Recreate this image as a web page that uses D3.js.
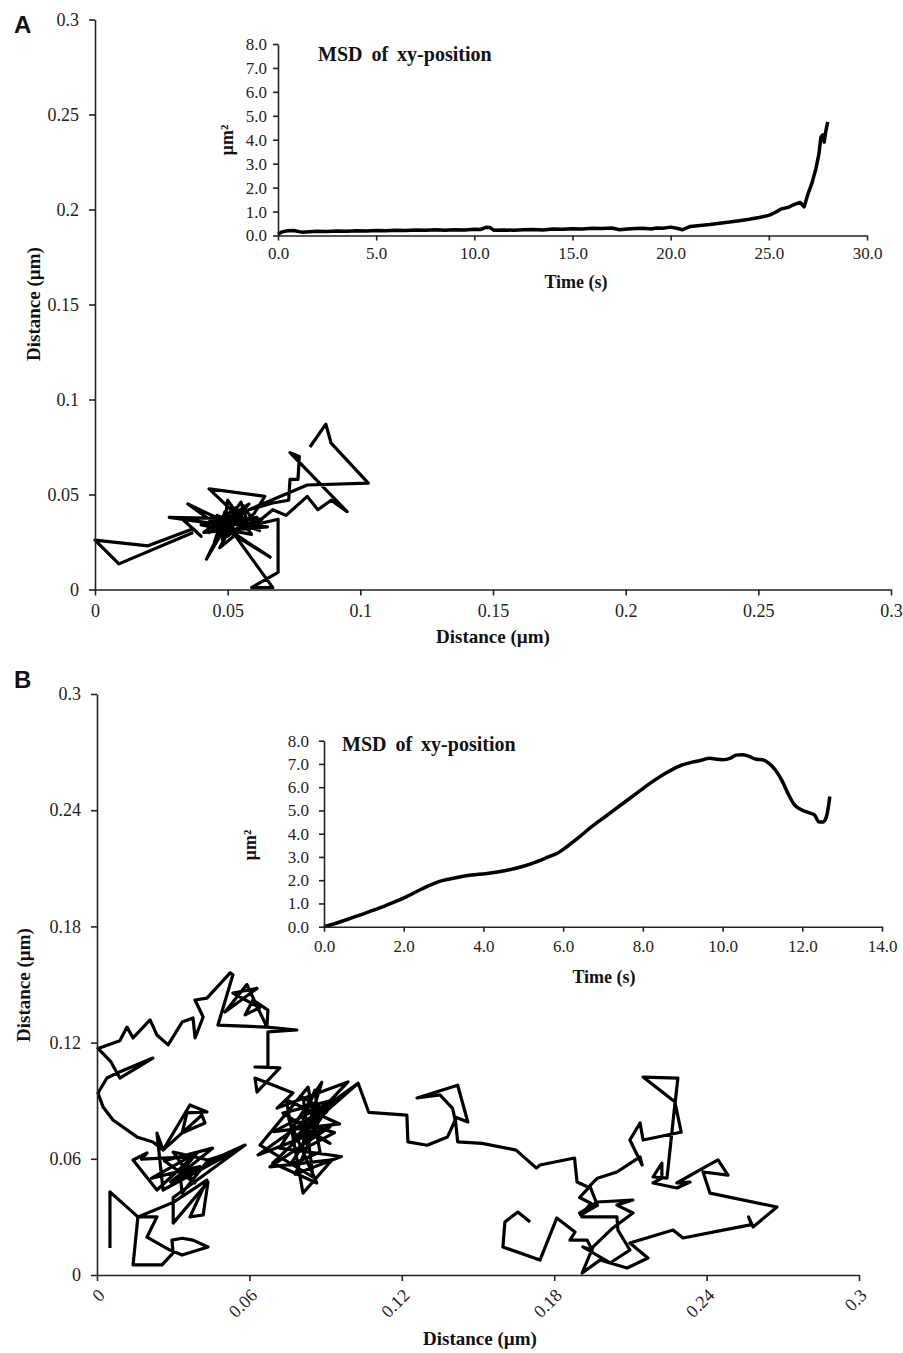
<!DOCTYPE html>
<html><head><meta charset="utf-8">
<script src="https://cdn.jsdelivr.net/npm/d3@7"></script>
<style>body{margin:0;background:#fff} svg{display:block}</style>
</head><body><svg id="c" width="903" height="1353"></svg>
<script>
// ---------------- DATA ----------------
const mainTicksA = [0, 0.05, 0.1, 0.15, 0.2, 0.25, 0.3];
const mainTickLabelsA = ["0", "0.05", "0.1", "0.15", "0.2", "0.25", "0.3"];
const mainTicksB = [0, 0.06, 0.12, 0.18, 0.24, 0.3];
const mainTickLabelsB = ["0", "0.06", "0.12", "0.18", "0.24", "0.3"];
const insetYTicks = [0, 1, 2, 3, 4, 5, 6, 7, 8];
const insetYTickLabels = ["0.0", "1.0", "2.0", "3.0", "4.0", "5.0", "6.0", "7.0", "8.0"];
const insetATimeTicks = [0, 5, 10, 15, 20, 25, 30];
const insetATimeLabels = ["0.0", "5.0", "10.0", "15.0", "20.0", "25.0", "30.0"];
const insetBTimeTicks = [0, 2, 4, 6, 8, 10, 12, 14];
const insetBTimeLabels = ["0.0", "2.0", "4.0", "6.0", "8.0", "10.0", "12.0", "14.0"];

// Panel A trajectory (x, y in µm)
const trackA = [
[0.037,0.030],[0.009,0.0135],[0.000,0.026],[0.020,0.023],[0.037,0.032],[0.040,0.028],[0.033,0.037],
[0.048,0.034],[0.028,0.038],[0.063,0.037],[0.052,0.030],[0.066,0.017],[0.044,0.036],[0.035,0.045],
[0.050,0.035],[0.042,0.016],[0.047,0.030],[0.055,0.046],[0.058,0.033],[0.043,0.053],[0.064,0.049],
[0.060,0.040],[0.050,0.028],[0.056,0.044],[0.062,0.031],[0.046,0.039],[0.054,0.027],[0.049,0.041],
[0.045,0.025],[0.058,0.045],[0.044,0.032],[0.061,0.038],[0.047,0.022],[0.054,0.040],[0.040,0.034],
[0.059,0.029],[0.050,0.047],[0.048,0.026],[0.052,0.038],[0.043,0.030],[0.057,0.041],[0.046,0.035],
[0.065,0.033],[0.041,0.030],[0.053,0.043],[0.057,0.035],[0.052,0.030],[0.067,0.001],[0.059,0.001],
[0.069,0.009],[0.069,0.037],[0.060,0.034],[0.067,0.042],[0.072,0.039],[0.080,0.049],[0.084,0.042],
[0.089,0.047],[0.095,0.041],[0.0735,0.072],[0.077,0.070],[0.0765,0.058],[0.0735,0.058],[0.073,0.047],
[0.067,0.0455],[0.058,0.042],[0.080,0.055],[0.103,0.056],[0.089,0.077],[0.087,0.087],[0.081,0.075]
];

// Panel B trajectory (x, y in µm)
const trackB = [
[0.0051,0.0139],[0.0051,0.0429],[0.0161,0.030],[0.0142,0.0052],[0.0256,0.0052],[0.030,0.0114],
[0.0295,0.018],[0.0335,0.019],[0.0378,0.018],[0.0437,0.0145],[0.0335,0.0103],[0.0287,0.0129],
[0.0197,0.0196],[0.0236,0.030],[0.0161,0.030],[0.030,0.0375],[0.0433,0.049],[0.0366,0.030],
[0.0418,0.031],[0.0437,0.048],[0.030,0.0268],[0.030,0.040],[0.0583,0.0671],[0.043,0.058],
[0.0335,0.0423],[0.0327,0.0527],[0.0394,0.063],[0.0236,0.0439],[0.0142,0.0594],[0.0197,0.063],
[0.0175,0.0598],[0.0365,0.0610],[0.0215,0.0500],[0.0405,0.0560],[0.0290,0.0480],[0.0455,0.0655],
[0.0265,0.0590],[0.0385,0.0475],
[0.030,0.0635],[0.0437,0.0594],[0.0535,0.0635],[0.026,0.0439],[0.0236,0.0733],[0.026,0.0645],
[0.0366,0.0878],[0.0433,0.0842],[0.0354,0.0837],[0.0335,0.0733],[0.0425,0.0785],[0.0413,0.0826],
[0.026,0.0645],[0.022,0.0687],[0.0157,0.0713],[0.0063,0.080],[0.0024,0.0867],[0.0004,0.094],
[0.0039,0.1017],[0.0079,0.1043],[0.022,0.112],[0.009,0.1017],[0.0055,0.110],[0.0004,0.117],
[0.009,0.121],[0.0118,0.128],[0.0142,0.1224],[0.0209,0.1317],[0.0236,0.1239],[0.028,0.1188],
[0.0335,0.1306],[0.0378,0.1327],[0.0386,0.1224],[0.0418,0.1332],[0.0386,0.142],[0.0433,0.143],
[0.0524,0.156],[0.0535,0.155],[0.0476,0.129],[0.0669,0.128],[0.059,0.150],[0.0504,0.1358],
[0.063,0.148],[0.0535,0.1456],[0.064,0.138],[0.0583,0.1343],[0.0614,0.142],[0.0673,0.1368],
[0.0669,0.128],[0.0787,0.1265],[0.0673,0.1255],[0.0673,0.1074],[0.0622,0.1074],[0.072,0.107],
[0.063,0.0945],[0.0622,0.1017],[0.0772,0.094],[0.0709,0.0862],[0.0988,0.0997],[0.0772,0.0697],
[0.1028,0.099],[0.0634,0.062],[0.0917,0.0764],[0.0681,0.0558],[0.0925,0.0594],[0.0811,0.0423],
[0.0745,0.0905],[0.0955,0.078],[0.0695,0.0740],[0.090,0.088],[0.078,0.052],[0.0962,0.0612],
[0.0718,0.0655],[0.0885,0.0995],[0.0802,0.0642],[0.0935,0.0735],[0.0755,0.0805],[0.0865,0.0475],
[0.0692,0.0578],[0.0905,0.0845],[0.0812,0.0916],
[0.085,0.0506],[0.0642,0.0671],[0.0831,0.097],[0.0878,0.0635],[0.076,0.0568],[0.0929,0.0904],
[0.0732,0.0836],[0.0917,0.068],[0.080,0.0759],[0.0858,0.0955],[0.087,0.0816],[0.1008,0.097],
[0.1028,0.099],[0.107,0.084],[0.122,0.0826],[0.1224,0.0687],[0.130,0.067],[0.138,0.0713],
[0.141,0.080],[0.140,0.086],[0.135,0.093],[0.126,0.0914],[0.142,0.098],[0.146,0.079],
[0.141,0.0816],[0.142,0.0687],[0.1516,0.068],[0.165,0.0645],[0.173,0.0552],[0.1744,0.0568],
[0.188,0.0604],[0.189,0.048],[0.1937,0.0452],[0.190,0.040],[0.1945,0.037],[0.1905,0.031],
[0.197,0.036],[0.194,0.046],[0.197,0.050],[0.2047,0.0532],[0.2138,0.061],[0.2146,0.0568],
[0.2098,0.0697],[0.2138,0.0785],[0.215,0.0697],[0.2283,0.0733],[0.230,0.0738],[0.2276,0.0888],
[0.2287,0.1017],[0.215,0.1022],[0.2276,0.0893],[0.2244,0.050],[0.2189,0.0506],[0.2224,0.0578],
[0.2224,0.050],[0.2189,0.0475],[0.2283,0.0449],[0.2335,0.048],[0.2283,0.0475],[0.2386,0.0552],
[0.2445,0.0594],[0.2484,0.0516],[0.2386,0.0532],[0.2413,0.0423],[0.2677,0.0351],[0.2583,0.0248],
[0.2565,0.030],[0.2577,0.0260],[0.2465,0.0232],[0.2307,0.0191],[0.2268,0.0232],[0.2098,0.0165],
[0.2169,0.0088],[0.2087,0.0036],[0.198,0.0077],[0.191,0.001],[0.1953,0.0145],[0.2031,0.0243],
[0.211,0.032],[0.2047,0.0361],[0.211,0.0387],[0.1969,0.0377],[0.190,0.032],[0.1909,0.030],
[0.2047,0.030],[0.2051,0.0232],[0.2098,0.0129],[0.202,0.0062],[0.1913,0.0145],[0.1949,0.0129],
[0.193,0.018],[0.1862,0.018],[0.1882,0.0222],[0.181,0.0294],[0.1744,0.0077],[0.1598,0.0145],
[0.1606,0.0274],[0.1657,0.0325],[0.1705,0.0274]
];

// Inset A: MSD vs time
const msdATime = [0.0,0.2,0.5,0.8,1.2,1.6,2.0,2.5,3.0,3.5,4.0,4.5,5.0,5.5,6.0,6.5,7.0,7.5,8.0,8.5,9.0,9.5,10.0,10.3,10.6,10.8,11.0,11.5,12.0,12.5,13.0,13.5,14.0,14.5,15.0,15.5,16.0,16.5,17.0,17.4,17.8,18.2,18.6,19.0,19.3,19.6,20.0,20.3,20.6,21.0,21.5,22.0,22.5,23.0,23.5,24.0,24.5,25.0,25.3,25.6,26.0,26.3,26.6,26.8,27.0,27.2,27.4,27.55,27.65,27.75,27.82,27.9,28.0];
const msdAValue = [0.05,0.15,0.20,0.21,0.14,0.16,0.18,0.17,0.19,0.18,0.20,0.19,0.21,0.20,0.22,0.21,0.23,0.22,0.24,0.22,0.24,0.23,0.26,0.25,0.34,0.33,0.22,0.23,0.22,0.24,0.25,0.23,0.27,0.26,0.28,0.27,0.30,0.29,0.31,0.24,0.27,0.29,0.30,0.27,0.31,0.30,0.35,0.30,0.24,0.38,0.42,0.46,0.51,0.56,0.62,0.68,0.75,0.84,0.95,1.10,1.18,1.30,1.38,1.20,1.75,2.20,2.80,3.40,4.10,4.20,3.90,4.35,4.75];

// Inset B: MSD vs time
const msdBTime = [0,0.3,0.6,0.93,1.26,1.6,2.02,2.45,2.9,3.34,3.7,4.05,4.35,4.65,5.0,5.31,5.6,5.85,6.1,6.4,6.7,7.06,7.5,7.93,8.25,8.59,8.9,9.24,9.45,9.68,9.85,10.01,10.2,10.34,10.5,10.67,10.85,11.0,11.15,11.32,11.5,11.65,11.8,11.95,12.09,12.2,12.31,12.42,12.5,12.58,12.65,12.69];
const msdBValue = [0,0.15,0.32,0.52,0.72,0.95,1.25,1.62,1.95,2.12,2.22,2.28,2.35,2.45,2.6,2.78,2.98,3.16,3.45,3.85,4.28,4.74,5.3,5.85,6.25,6.62,6.9,7.08,7.15,7.25,7.2,7.18,7.25,7.38,7.4,7.32,7.2,7.18,7.05,6.75,6.25,5.7,5.25,5.05,4.95,4.88,4.8,4.5,4.5,4.62,5.1,5.6];

// ---------------- DRAWING ----------------
const svg = d3.select('#c');
svg.append('rect').attr('width', 903).attr('height', 1353).attr('fill', '#fff');
const serif = '"Liberation Serif","Times New Roman",serif';
const sans = '"Liberation Sans",Arial,sans-serif';
const AX = '#222';

function styleAxis(g, fs) {
  g.select('.domain').attr('stroke', AX).attr('stroke-width', 1.6);
  g.selectAll('.tick line').attr('stroke', AX).attr('stroke-width', 1.6);
  g.selectAll('.tick text').attr('font-size', fs).attr('font-family', serif).attr('fill', '#222');
}
function label(txt, x, y, opts = {}) {
  const t = svg.append('text').text(txt).attr('x', x).attr('y', y)
    .attr('font-family', opts.family || serif)
    .attr('font-size', opts.size || 18)
    .attr('font-weight', opts.weight || 'bold')
    .attr('text-anchor', opts.anchor || 'middle')
    .attr('fill', '#111');
  if (opts.rotate) t.attr('transform', `rotate(${opts.rotate},${x},${y})`);
  if (opts.ws) t.attr('word-spacing', opts.ws);
  return t;
}

// ---- Panel A main ----
const xA = d3.scaleLinear().domain([0, 0.3]).range([95, 891]);
const yA = d3.scaleLinear().domain([0, 0.3]).range([589.5, 19.5]);
svg.append('path').datum(trackA)
  .attr('d', d3.line().x(d => xA(d[0])).y(d => yA(d[1])))
  .attr('fill', 'none').attr('stroke', '#000').attr('stroke-width', 3.2).attr('stroke-linejoin', 'round');
styleAxis(svg.append('g').attr('transform', 'translate(0,589.5)')
  .call(d3.axisBottom(xA).tickValues(mainTicksA).tickFormat((d, i) => mainTickLabelsA[i]).tickSizeInner(6).tickSizeOuter(0).tickPadding(9)), 18);
styleAxis(svg.append('g').attr('transform', 'translate(95,0)')
  .call(d3.axisLeft(yA).tickValues(mainTicksA).tickFormat((d, i) => mainTickLabelsA[i]).tickSizeInner(6).tickSizeOuter(0).tickPadding(10)), 18);
label('Distance (µm)', 493, 643, {size: 19});
label('Distance (µm)', 40, 304, {size: 19, rotate: -90});
label('A', 14, 33, {family: sans, size: 24, anchor: 'start'});

// ---- Inset A ----
const xIA = d3.scaleLinear().domain([0, 30]).range([278, 867]);
const yIA = d3.scaleLinear().domain([0, 8]).range([235.5, 44]);
svg.append('path').datum(msdATime.map((t, i) => [t, msdAValue[i]]))
  .attr('d', d3.line().x(d => xIA(d[0])).y(d => yIA(d[1])))
  .attr('fill', 'none').attr('stroke', '#000').attr('stroke-width', 3.5).attr('stroke-linejoin', 'round');
styleAxis(svg.append('g').attr('transform', 'translate(0,235.5)')
  .call(d3.axisBottom(xIA).tickValues(insetATimeTicks).tickFormat((d, i) => insetATimeLabels[i]).tickSizeInner(5).tickSizeOuter(0).tickPadding(6)), 17);
styleAxis(svg.append('g').attr('transform', 'translate(278,0)')
  .call(d3.axisLeft(yIA).tickValues(insetYTicks).tickFormat((d, i) => insetYTickLabels[i]).tickSizeInner(5).tickSizeOuter(0).tickPadding(6)), 17);
label('MSD of xy-position', 318, 61, {size: 20, anchor: 'start', ws: 4});
label('Time (s)', 576, 288, {size: 18});
label('µm²', 233, 140, {size: 18, rotate: -90});

// ---- Panel B main ----
const xB = d3.scaleLinear().domain([0, 0.3]).range([97, 859]);
const yB = d3.scaleLinear().domain([0, 0.3]).range([1275, 694]);
svg.append('path').datum(trackB)
  .attr('d', d3.line().x(d => xB(d[0])).y(d => yB(d[1])))
  .attr('fill', 'none').attr('stroke', '#000').attr('stroke-width', 3.2).attr('stroke-linejoin', 'round');
const gxB = svg.append('g').attr('transform', 'translate(0,1275)')
  .call(d3.axisBottom(xB).tickValues(mainTicksB).tickFormat((d, i) => mainTickLabelsB[i]).tickSizeInner(6).tickSizeOuter(0).tickPadding(9));
styleAxis(gxB, 18);
gxB.selectAll('.tick text').attr('text-anchor', 'end').attr('y', 0).attr('dy', '0.35em')
  .attr('transform', 'translate(4,17) rotate(-45)');
styleAxis(svg.append('g').attr('transform', 'translate(97,0)')
  .call(d3.axisLeft(yB).tickValues(mainTicksB).tickFormat((d, i) => mainTickLabelsB[i]).tickSizeInner(6).tickSizeOuter(0).tickPadding(10)), 18);
label('Distance (µm)', 480, 1345, {size: 19});
label('Distance (µm)', 30, 985, {size: 19, rotate: -90});
label('B', 14, 688, {family: sans, size: 24, anchor: 'start'});

// ---- Inset B ----
const xIB = d3.scaleLinear().domain([0, 14]).range([324, 882]);
const yIB = d3.scaleLinear().domain([0, 8]).range([926.7, 740.7]);
svg.append('path').datum(msdBTime.map((t, i) => [t, msdBValue[i]]))
  .attr('d', d3.line().curve(d3.curveMonotoneX).x(d => xIB(d[0])).y(d => yIB(d[1])))
  .attr('fill', 'none').attr('stroke', '#000').attr('stroke-width', 3.5).attr('stroke-linejoin', 'round');
styleAxis(svg.append('g').attr('transform', 'translate(0,926.7)')
  .call(d3.axisBottom(xIB).tickValues(insetBTimeTicks).tickFormat((d, i) => insetBTimeLabels[i]).tickSizeInner(5).tickSizeOuter(0).tickPadding(8)), 17);
styleAxis(svg.append('g').attr('transform', 'translate(324,0)')
  .call(d3.axisLeft(yIB).tickValues(insetYTicks).tickFormat((d, i) => insetYTickLabels[i]).tickSizeInner(5).tickSizeOuter(0).tickPadding(10)), 17);
label('MSD of xy-position', 342, 751, {size: 20, anchor: 'start', ws: 4});
label('Time (s)', 604, 983, {size: 18});
label('µm²', 256, 845, {size: 18, rotate: -90});
</script></body></html>
